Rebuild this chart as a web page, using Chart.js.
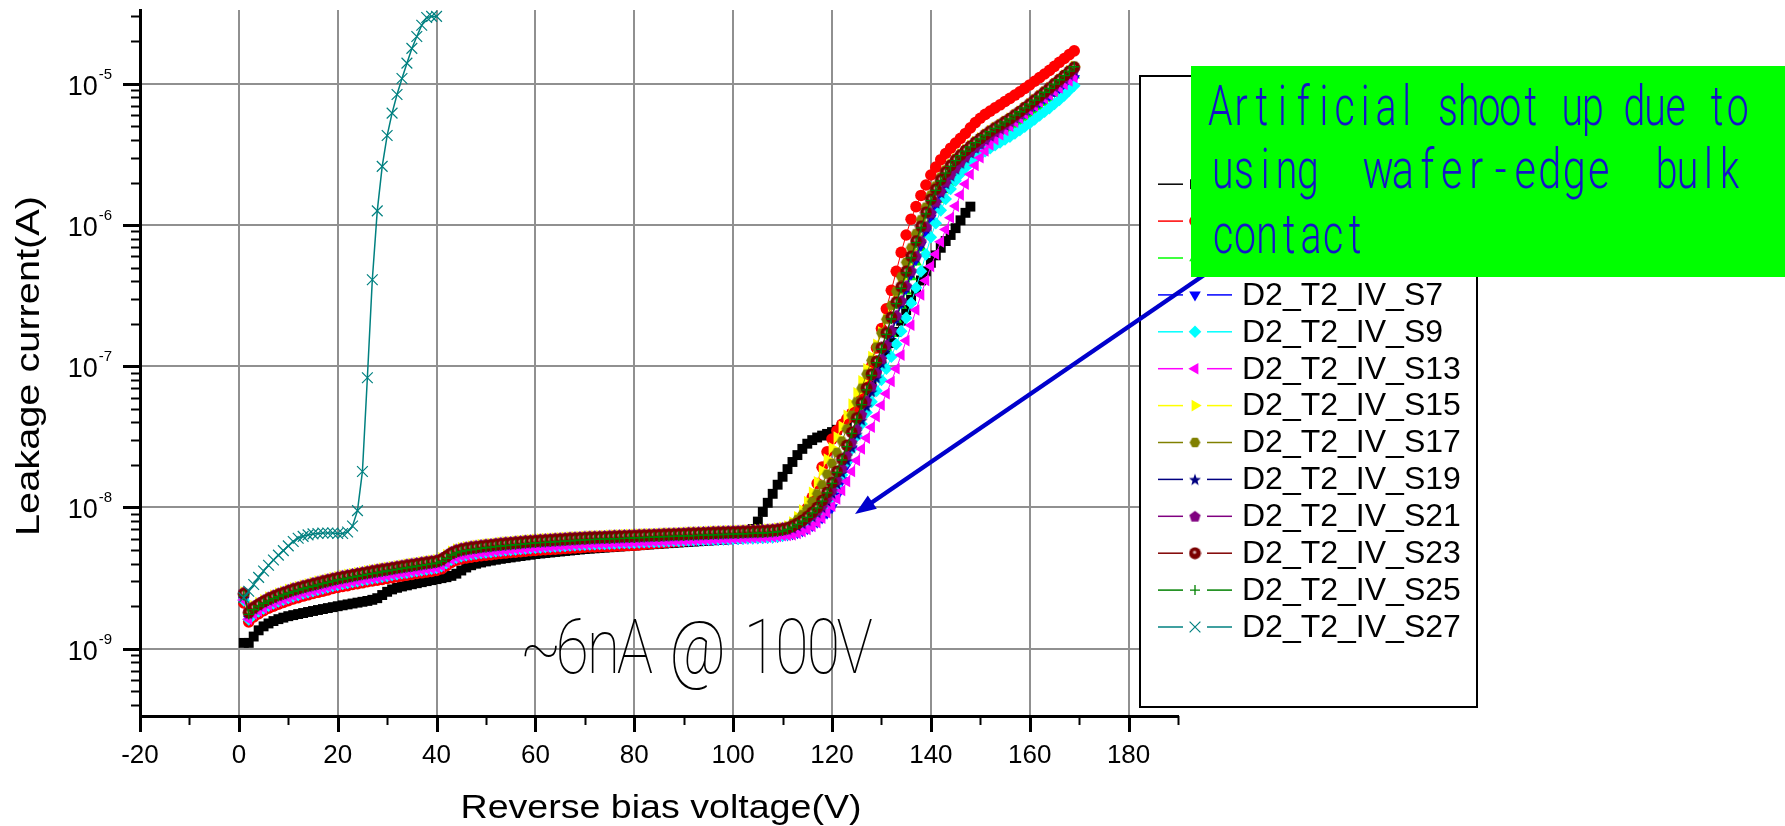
<!DOCTYPE html>
<html>
<head>
<meta charset="utf-8">
<title>Leakage current vs reverse bias</title>
<script src="https://cdn.jsdelivr.net/npm/chart.js@4.4.1/dist/chart.umd.min.js"></script>
<style>
html,body{margin:0;padding:0;background:#ffffff;overflow:hidden;}
canvas{display:block;}
</style>
</head>
<body>
<canvas id="chart" width="1785" height="826"></canvas>
<script>
// ---------------- DATA ----------------
const VOLTS = [1,2,3,4,5,6,7,8,9,10,11,12,13,14,15,16,17,18,19,20,21,22,23,24,25,26,27,28,29,30,31,32,33,34,35,36,37,38,39,40,41,42,43,44,45,46,47,48,49,50,51,52,53,54,55,56,57,58,59,60,61,62,63,64,65,66,67,68,69,70,71,72,73,74,75,76,77,78,79,80,81,82,83,84,85,86,87,88,89,90,91,92,93,94,95,96,97,98,99,100,101,102,103,104,105,106,107,108,109,110,111,112,113,114,115,116,117,118,119,120,121,122,123,124,125,126,127,128,129,130,131,132,133,134,135,136,137,138,139,140,141,142,143,144,145,146,147,148,149,150,151,152,153,154,155,156,157,158,159,160,161,162,163,164,165,166,167,168,169];

// leakage currents in nA, one value per volt
const S1_nA = [1.10,1.10,1.22,1.35,1.44,1.51,1.57,1.62,1.66,1.70,
1.73,1.76,1.79,1.82,1.85,1.88,1.91,1.94,1.97,2.00,
2.03,2.06,2.09,2.12,2.15,2.18,2.22,2.28,2.40,2.53,
2.63,2.70,2.76,2.81,2.86,2.91,2.96,3.01,3.06,3.11,
3.16,3.21,3.28,3.40,3.58,3.76,3.90,4.00,4.08,4.15,
4.21,4.27,4.33,4.38,4.43,4.48,4.53,4.58,4.63,4.68,
4.72,4.76,4.80,4.84,4.88,4.92,4.96,5.00,5.04,5.08,
5.11,5.14,5.17,5.20,5.23,5.26,5.29,5.32,5.35,5.38,
5.41,5.44,5.47,5.50,5.53,5.56,5.59,5.62,5.65,5.68,
5.71,5.74,5.77,5.80,5.83,5.86,5.89,5.92,5.95,5.98,
6.02,6.10,6.45,7.05,7.95,9.3,10.8,12.5,14.5,16.5,
18.7,21,23.5,26,28.3,30,31.3,32.3,33.2,34.2,
35.5,37.5,40,43.5,48,54,62,73,86,102,
122,146,175,210,250,295,345,405,470,540,
610,690,770,850,950,1080,1220,1350];

const S3_nA = [2.11,1.55,1.68,1.77,1.86,1.94,2.00,2.07,2.13,2.19,
2.25,2.30,2.36,2.41,2.46,2.51,2.56,2.61,2.67,2.72,
2.76,2.80,2.85,2.89,2.93,2.98,3.02,3.06,3.10,3.15,
3.19,3.23,3.28,3.32,3.36,3.41,3.45,3.49,3.53,3.58,
3.68,3.87,4.09,4.23,4.33,4.39,4.45,4.51,4.56,4.60,
4.64,4.69,4.73,4.76,4.80,4.83,4.87,4.90,4.94,4.97,
5.00,5.02,5.05,5.07,5.10,5.13,5.15,5.18,5.20,5.23,
5.25,5.26,5.28,5.30,5.31,5.33,5.35,5.37,5.38,5.40,
5.44,5.48,5.52,5.56,5.60,5.64,5.68,5.72,5.76,5.80,
5.84,5.88,5.92,5.96,6.00,6.04,6.08,6.12,6.16,6.20,
6.24,6.28,6.32,6.36,6.40,6.44,6.48,6.53,6.59,6.67,
6.80,7.15,7.70,8.60,9.90,11.8,14.8,19.3,24.8,30.5,
35.0,38.8,42.5,46.5,52,61,76,100,135,185,
255,345,470,640,850,1100,1350,1620,1920,2260,
2570,2900,3210,3500,3800,4110,4450,4870,5310,5700,
6070,6400,6750,7100,7500,7880,8320,8760,9280,9810,
10420,11050,11730,12440,13290,14200,15100,16100,17100];

const S5_nA = [2.28,1.67,1.81,1.92,2.01,2.09,2.17,2.24,2.31,2.37,
2.44,2.49,2.55,2.60,2.66,2.72,2.77,2.83,2.88,2.94,
2.99,3.03,3.08,3.12,3.17,3.22,3.26,3.31,3.36,3.40,
3.45,3.50,3.54,3.59,3.64,3.68,3.73,3.78,3.82,3.87,
3.98,4.19,4.42,4.58,4.68,4.75,4.82,4.87,4.93,4.98,
5.02,5.07,5.12,5.15,5.19,5.23,5.26,5.30,5.34,5.38,
5.40,5.43,5.46,5.49,5.51,5.54,5.57,5.60,5.63,5.65,
5.67,5.69,5.71,5.73,5.75,5.77,5.78,5.80,5.82,5.84,
5.86,5.88,5.90,5.91,5.93,5.95,5.97,5.99,6.01,6.03,
6.05,6.06,6.08,6.10,6.12,6.14,6.16,6.18,6.19,6.21,
6.23,6.25,6.27,6.29,6.31,6.32,6.35,6.39,6.44,6.53,
6.75,6.95,7.25,7.65,8.15,8.8,9.6,10.6,12.0,14.0,
16.5,20,24.5,30,37,46,57,70,87,108,
135,170,215,270,340,430,545,690,870,1080,
1290,1520,1770,2000,2230,2440,2650,2860,3070,3280,
3500,3730,3940,4160,4400,4640,4910,5220,5580,5930,
6380,6840,7350,7880,8510,9160,9880,10680,11500];

const S7_nA = [2.21,1.62,1.76,1.85,1.94,2.03,2.10,2.17,2.23,2.30,
2.36,2.41,2.47,2.52,2.57,2.63,2.68,2.74,2.79,2.84,
2.89,2.93,2.98,3.02,3.07,3.11,3.16,3.20,3.25,3.29,
3.34,3.38,3.43,3.47,3.52,3.56,3.61,3.65,3.70,3.74,
3.85,4.05,4.28,4.43,4.53,4.60,4.66,4.72,4.77,4.82,
4.86,4.91,4.95,4.99,5.02,5.06,5.09,5.13,5.17,5.20,
5.23,5.26,5.28,5.31,5.34,5.36,5.39,5.42,5.45,5.47,
5.49,5.51,5.53,5.54,5.56,5.58,5.60,5.62,5.63,5.65,
5.67,5.69,5.71,5.72,5.74,5.76,5.78,5.80,5.81,5.83,
5.85,5.87,5.89,5.90,5.92,5.94,5.96,5.98,5.99,6.01,
6.03,6.05,6.07,6.08,6.10,6.12,6.15,6.18,6.24,6.32,
6.4,6.5,6.65,6.85,7.1,7.45,7.9,8.45,9.15,10.0,
12,15.5,20,26,34,44,56,71,90,113,
140,175,220,280,355,450,570,720,900,1120,
1340,1600,1860,2140,2400,2650,2910,3150,3400,3650,
3910,4170,4430,4680,4960,5240,5550,5870,6230,6600,
7010,7440,7880,8320,8830,9300,9790,10340,10900];

const S9_nA = [2.20,1.61,1.75,1.84,1.93,2.02,2.09,2.16,2.22,2.29,
2.35,2.40,2.46,2.51,2.56,2.62,2.67,2.73,2.78,2.83,
2.88,2.92,2.97,3.01,3.06,3.10,3.15,3.19,3.24,3.28,
3.33,3.37,3.42,3.46,3.51,3.55,3.60,3.64,3.69,3.73,
3.84,4.04,4.27,4.42,4.52,4.59,4.65,4.71,4.76,4.81,
4.85,4.90,4.94,4.98,5.01,5.05,5.08,5.12,5.16,5.19,
5.22,5.25,5.27,5.30,5.33,5.35,5.38,5.41,5.44,5.46,
5.48,5.50,5.52,5.53,5.55,5.57,5.59,5.61,5.62,5.64,
5.66,5.68,5.70,5.71,5.73,5.75,5.77,5.79,5.80,5.82,
5.84,5.86,5.88,5.89,5.91,5.93,5.95,5.97,5.98,6.00,
6.02,6.04,6.06,6.07,6.09,6.11,6.14,6.17,6.23,6.31,
6.45,6.6,6.8,7.05,7.35,7.8,8.4,9.2,10.3,11.8,
14,17,21,26,32,39,47,56,67,80,
96,117,143,177,220,280,360,470,620,820,
1030,1270,1530,1800,2060,2310,2550,2760,2950,3140,
3330,3500,3670,3840,4030,4220,4450,4690,4970,5260,
5600,5960,6340,6730,7190,7670,8270,8970,9700];

const S13_nA = [2.21,1.62,1.76,1.85,1.94,2.03,2.10,2.17,2.23,2.30,
2.36,2.41,2.47,2.52,2.57,2.63,2.68,2.74,2.79,2.84,
2.89,2.93,2.98,3.02,3.07,3.11,3.16,3.20,3.25,3.29,
3.34,3.38,3.43,3.47,3.52,3.56,3.61,3.65,3.70,3.74,
3.85,4.05,4.28,4.43,4.53,4.60,4.66,4.72,4.77,4.82,
4.86,4.91,4.95,4.99,5.02,5.06,5.09,5.13,5.17,5.20,
5.23,5.26,5.28,5.31,5.34,5.36,5.39,5.42,5.45,5.47,
5.49,5.51,5.53,5.54,5.56,5.58,5.60,5.62,5.63,5.65,
5.67,5.69,5.71,5.72,5.74,5.76,5.78,5.80,5.81,5.83,
5.85,5.87,5.89,5.90,5.92,5.94,5.96,5.98,5.99,6.01,
6.03,6.05,6.07,6.08,6.10,6.12,6.15,6.18,6.24,6.32,
6.35,6.4,6.55,6.75,7.0,7.35,7.8,8.4,9.2,10.2,
11.5,13.2,15.3,18,21.5,26,31,37,44,53,
64,78,96,120,152,195,250,320,405,510,
621,760,930,1128,1362,1636,1949,2285,2639,2993,
3342,3686,4025,4360,4680,5000,5353,5711,6109,6516,
6971,7439,7875,8322,8827,9347,9880,10481,11100];

const S15_nA = [2.52,1.85,2.01,2.12,2.22,2.32,2.40,2.48,2.55,2.63,
2.70,2.76,2.82,2.88,2.95,3.01,3.07,3.13,3.19,3.25,
3.31,3.36,3.41,3.46,3.51,3.56,3.62,3.67,3.72,3.77,
3.82,3.87,3.92,3.98,4.03,4.08,4.13,4.18,4.23,4.28,
4.41,4.64,4.89,5.07,5.18,5.26,5.34,5.40,5.46,5.51,
5.56,5.61,5.67,5.71,5.75,5.79,5.83,5.87,5.91,5.95,
5.98,6.02,6.05,6.08,6.11,6.14,6.17,6.20,6.23,6.26,
6.28,6.30,6.32,6.34,6.37,6.39,6.41,6.43,6.45,6.47,
6.49,6.51,6.53,6.55,6.57,6.59,6.61,6.63,6.65,6.67,
6.70,6.72,6.74,6.76,6.78,6.80,6.82,6.84,6.86,6.88,
6.90,6.92,6.94,6.96,6.98,7.00,7.03,7.08,7.14,7.23,
7.4,7.9,8.6,9.6,11.0,12.8,15.2,18.3,22,26.5,
31.5,37.5,45,54,65,79,96,117,143,175,
215,265,330,415,525,660,830,1040,1290,1580,
1850,2140,2420,2690,2940,3180,3420,3650,3900,4140,
4400,4660,4910,5160,5440,5720,6050,6410,6810,7240,
7720,8240,8780,9360,10030,10760,11510,12390,13300];

const S17_nA = [2.45,1.80,1.95,2.06,2.16,2.25,2.33,2.41,2.48,2.55,
2.62,2.68,2.74,2.80,2.86,2.92,2.98,3.04,3.10,3.16,
3.21,3.26,3.31,3.36,3.41,3.46,3.51,3.56,3.61,3.66,
3.71,3.76,3.81,3.86,3.91,3.96,4.01,4.06,4.11,4.16,
4.28,4.50,4.75,4.92,5.03,5.11,5.18,5.24,5.30,5.35,
5.40,5.45,5.50,5.54,5.58,5.62,5.66,5.70,5.74,5.78,
5.81,5.84,5.87,5.90,5.93,5.96,5.99,6.02,6.05,6.08,
6.10,6.12,6.14,6.16,6.18,6.20,6.22,6.24,6.26,6.28,
6.30,6.32,6.34,6.36,6.38,6.40,6.42,6.44,6.46,6.48,
6.50,6.52,6.54,6.56,6.58,6.60,6.62,6.64,6.66,6.68,
6.70,6.72,6.74,6.76,6.78,6.80,6.83,6.87,6.93,7.02,
7.3,7.7,8.2,8.9,9.8,11.0,12.5,14.5,17.2,20.5,
24.5,29.5,36,45,56,70,88,110,137,172,
215,270,340,430,545,690,870,1090,1340,1630,
1890,2180,2450,2700,2950,3180,3410,3640,3880,4110,
4370,4630,4880,5130,5410,5690,6030,6380,6790,7210,
7700,8220,8760,9350,10020,10750,11500,12390,13310];

const S19_nA = [2.41,1.78,1.92,2.03,2.13,2.21,2.29,2.37,2.44,2.51,
2.58,2.64,2.70,2.76,2.81,2.87,2.93,2.99,3.05,3.11,
3.16,3.21,3.26,3.31,3.36,3.41,3.45,3.50,3.55,3.60,
3.65,3.70,3.75,3.80,3.85,3.90,3.95,4.00,4.05,4.10,
4.21,4.43,4.68,4.84,4.95,5.03,5.10,5.16,5.22,5.27,
5.32,5.37,5.42,5.46,5.50,5.54,5.58,5.62,5.66,5.70,
5.73,5.75,5.78,5.81,5.84,5.87,5.90,5.93,5.96,5.99,
6.01,6.03,6.05,6.07,6.09,6.11,6.13,6.15,6.17,6.19,
6.21,6.23,6.25,6.27,6.29,6.31,6.33,6.35,6.37,6.39,
6.41,6.42,6.44,6.46,6.48,6.50,6.52,6.54,6.56,6.58,
6.60,6.62,6.64,6.66,6.68,6.70,6.73,6.77,6.83,6.92,
7.0,7.15,7.4,7.7,8.1,8.6,9.2,10.0,11.1,12.6,
14.7,17.6,21.5,26.5,33,41.5,52,66,83,105,
133,170,218,280,360,460,590,750,950,1190,
1430,1690,1960,2230,2490,2740,2990,3240,3500,3760,
4030,4290,4560,4820,5110,5410,5750,6100,6490,6910,
7380,7870,8380,8920,9530,10170,10850,11620,12430];

const S21_nA = [2.52,1.85,2.01,2.12,2.22,2.32,2.40,2.48,2.55,2.63,
2.70,2.76,2.82,2.88,2.95,3.01,3.07,3.13,3.19,3.25,
3.31,3.36,3.41,3.46,3.51,3.56,3.62,3.67,3.72,3.77,
3.82,3.87,3.92,3.98,4.03,4.08,4.13,4.18,4.23,4.28,
4.41,4.64,4.89,5.07,5.18,5.26,5.34,5.40,5.46,5.51,
5.56,5.61,5.67,5.71,5.75,5.79,5.83,5.87,5.91,5.95,
5.98,6.02,6.05,6.08,6.11,6.14,6.17,6.20,6.23,6.26,
6.28,6.30,6.32,6.34,6.37,6.39,6.41,6.43,6.45,6.47,
6.49,6.51,6.53,6.55,6.57,6.59,6.61,6.63,6.65,6.67,
6.70,6.72,6.74,6.76,6.78,6.80,6.82,6.84,6.86,6.88,
6.90,6.92,6.94,6.96,6.98,7.00,7.03,7.08,7.14,7.23,
7.25,7.4,7.7,8.0,8.4,8.9,9.5,10.4,11.6,13.3,
15.7,19,23.5,29,36,45.5,57,72,90,113,
142,180,230,292,372,475,605,770,975,1220,
1460,1740,2020,2290,2550,2800,3060,3310,3570,3820,
4090,4360,4620,4890,5180,5480,5820,6170,6580,7000,
7480,7990,8520,9080,9720,10400,11120,11930,12800];

const S23_nA = [2.45,1.80,1.95,2.06,2.16,2.25,2.33,2.41,2.48,2.55,
2.62,2.68,2.74,2.80,2.86,2.92,2.98,3.04,3.10,3.16,
3.21,3.26,3.31,3.36,3.41,3.46,3.51,3.56,3.61,3.66,
3.71,3.76,3.81,3.86,3.91,3.96,4.01,4.06,4.11,4.16,
4.28,4.50,4.75,4.92,5.03,5.11,5.18,5.24,5.30,5.35,
5.40,5.45,5.50,5.54,5.58,5.62,5.66,5.70,5.74,5.78,
5.81,5.84,5.87,5.90,5.93,5.96,5.99,6.02,6.05,6.08,
6.10,6.12,6.14,6.16,6.18,6.20,6.22,6.24,6.26,6.28,
6.30,6.32,6.34,6.36,6.38,6.40,6.42,6.44,6.46,6.48,
6.50,6.52,6.54,6.56,6.58,6.60,6.62,6.64,6.66,6.68,
6.70,6.72,6.74,6.76,6.78,6.80,6.83,6.87,6.93,7.02,
7.15,7.38,7.70,8.10,8.60,9.25,10.0,11.2,12.8,15.0,
18,22,27.5,34,43,55,70,88,108,135,
172,222,285,365,470,600,770,980,1230,1520,
1795,2090,2370,2640,2890,3130,3380,3610,3860,4100,
4360,4620,4870,5120,5400,5680,6020,6370,6780,7200,
7690,8210,8750,9350,10010,10700,11450,12250,13100];

const S25_nA = [2.38,1.75,1.89,2.00,2.10,2.18,2.26,2.34,2.41,2.47,
2.54,2.60,2.66,2.72,2.77,2.83,2.89,2.95,3.01,3.07,
3.11,3.16,3.21,3.26,3.31,3.36,3.40,3.45,3.50,3.55,
3.60,3.65,3.70,3.74,3.79,3.84,3.89,3.94,3.99,4.04,
4.15,4.37,4.61,4.77,4.88,4.96,5.02,5.08,5.14,5.19,
5.24,5.29,5.34,5.37,5.41,5.45,5.49,5.53,5.57,5.61,
5.64,5.66,5.69,5.72,5.75,5.78,5.81,5.84,5.87,5.90,
5.92,5.94,5.96,5.98,5.99,6.01,6.03,6.05,6.07,6.09,
6.11,6.13,6.15,6.17,6.19,6.21,6.23,6.25,6.27,6.29,
6.31,6.32,6.34,6.36,6.38,6.40,6.42,6.44,6.46,6.48,
6.50,6.52,6.54,6.56,6.58,6.60,6.63,6.66,6.72,6.81,
7.0,7.25,7.6,8.0,8.5,9.15,9.95,11.1,12.7,14.8,
17.7,21.7,27,33.5,42,53.5,68,86,106,132,
168,216,278,356,458,585,750,955,1200,1490,
1760,2050,2330,2600,2860,3100,3340,3580,3830,4070,
4330,4580,4840,5090,5370,5650,5990,6340,6750,7170,
7660,8170,8710,9290,9960,10680,11430,12300,13200];

const S27_nA = [2.30,2.55,2.85,3.20,3.55,3.90,4.25,4.60,4.95,5.35,
5.75,6.05,6.25,6.40,6.50,6.55,6.60,6.60,6.60,6.55,
6.55,6.70,7.40,9.50,18,83,410,1260,2600,4300,
6200,8400,10900,14000,17800,21600,26000,29500,30000,30000];

const SERIES_NAMES = ['D2_T2_IV_S1','D2_T2_IV_S3','D2_T2_IV_S5','D2_T2_IV_S7','D2_T2_IV_S9','D2_T2_IV_S13','D2_T2_IV_S15','D2_T2_IV_S17','D2_T2_IV_S19','D2_T2_IV_S21','D2_T2_IV_S23','D2_T2_IV_S25','D2_T2_IV_S27'];
const SERIES_VALUES_nA = [S1_nA,S3_nA,S5_nA,S7_nA,S9_nA,S13_nA,S15_nA,S17_nA,S19_nA,S21_nA,S23_nA,S25_nA,S27_nA];

const X_TICK_LABELS = ['-20','0','20','40','60','80','100','120','140','160','180'];
const Y_TICK_EXPONENTS = [-9,-8,-7,-6,-5];
const X_TITLE = 'Reverse bias voltage(V)';
const Y_TITLE = 'Leakage current(A)';
const NOTE_TEXT = '~6nA @ 100V';
const BOX_LINE1 = 'Artificial shoot up due to';
const BOX_LINE2 = ['using','wafer-edge','bulk'];
const BOX_LINE3 = 'contact';

// ---------------- STYLE ----------------
const X_MIN = -20, X_MAX = 190;
const Y_MIN = 3.34e-10, Y_MAX = 3.33e-5;
const NA = 1e-9;

function makeCanvas(size, draw){
  const c = document.createElement('canvas');
  c.width = size; c.height = size;
  const g = c.getContext('2d');
  draw(g, size/2);
  return c;
}
function polyPath(g, cx, cy, n, r, startDeg){
  g.beginPath();
  for (let k=0;k<n;k++){
    const a = (startDeg + k*360/n) * Math.PI/180;
    g.lineTo(cx + r*Math.cos(a), cy + r*Math.sin(a));
  }
  g.closePath();
}
const HEXAGON = makeCanvas(13, (g,c)=>{ polyPath(g,c,c,6,5.4,0); g.fillStyle='#808000'; g.fill(); });
const PENTAGON = makeCanvas(13, (g,c)=>{ polyPath(g,c,c+0.5,5,5.9,-90); g.fillStyle='#800080'; g.fill(); });
const STAR = makeCanvas(14, (g,c)=>{
  g.beginPath();
  for (let k=0;k<10;k++){
    const r = (k%2===0)?6.3:2.6;
    const a = (-90 + k*36)*Math.PI/180;
    g.lineTo(c + r*Math.cos(a), c+0.6 + r*Math.sin(a));
  }
  g.closePath(); g.fillStyle='#000080'; g.fill();
});
const SPHERE = makeCanvas(13, (g,c)=>{
  g.beginPath(); g.arc(c,c,5.9,0,Math.PI*2); g.fillStyle='#7a0000'; g.fill();
  const gr = g.createRadialGradient(c-0.4,c-0.9,0,c-0.4,c-0.9,2.5);
  gr.addColorStop(0,'rgba(240,222,222,1)');
  gr.addColorStop(0.55,'rgba(205,155,155,0.8)');
  gr.addColorStop(1,'rgba(140,30,30,0)');
  g.fillStyle = gr; g.beginPath(); g.arc(c-0.4,c-0.9,2.5,0,Math.PI*2); g.fill();
});

const STYLES = [
  {color:'#000000', style:'rect', r:7.0},
  {color:'#ff0000', style:'circle', r:5.8},
  {color:'#00ff00', style:'triangle', r:6.7},
  {color:'#0000ff', style:'triangle', r:6.7, rot:180},
  {color:'#00ffff', style:'rectRot', r:6.3},
  {color:'#ff00ff', style:'triangle', r:6.7, rot:270},
  {color:'#ffff00', style:'triangle', r:6.7, rot:90},
  {color:'#808000', style:HEXAGON, r:5},
  {color:'#000080', style:STAR, r:5},
  {color:'#800080', style:PENTAGON, r:5},
  {color:'#800000', style:SPHERE, r:5},
  {color:'#008000', style:'cross', r:5.0, bw:1.3},
  {color:'#008080', style:'crossRot', r:7.6, bw:1.2, lw:1.5}
];

const datasets = SERIES_NAMES.map((name, i) => {
  const st = STYLES[i];
  return {
    label: name,
    data: SERIES_VALUES_nA[i].map((v, j) => ({x: VOLTS[j], y: v * NA})),
    borderColor: st.color,
    backgroundColor: st.color,
    borderWidth: st.lw || 1,
    pointStyle: st.style,
    pointRadius: st.r,
    pointRotation: st.rot || 0,
    pointBackgroundColor: st.color,
    pointBorderColor: st.color,
    pointBorderWidth: st.bw || 0,
    tension: 0,
    fill: false,
    order: SERIES_NAMES.length - i
  };
});

// ---------------- DECORATION ----------------
function drawSymbol(ctx, st, x, y){
  const s = st.style;
  if (typeof s !== 'string'){ ctx.drawImage(s, x - s.width/2, y - s.height/2); return; }
  ctx.save();
  ctx.translate(x, y);
  ctx.rotate((st.rot||0) * Math.PI/180);
  ctx.fillStyle = st.color; ctx.strokeStyle = st.color; ctx.lineWidth = st.bw || 1;
  const r = st.r;
  ctx.beginPath();
  if (s === 'rect'){ const h = r*Math.SQRT1_2; ctx.rect(-h,-h,2*h,2*h); ctx.fill(); }
  else if (s === 'circle'){ ctx.arc(0,0,r,0,Math.PI*2); ctx.fill(); }
  else if (s === 'triangle'){ for (let k=0;k<3;k++){ const a=k*2*Math.PI/3; ctx.lineTo(Math.sin(a)*r, -Math.cos(a)*r);} ctx.closePath(); ctx.fill(); }
  else if (s === 'rectRot'){ ctx.moveTo(0,-r); ctx.lineTo(r,0); ctx.lineTo(0,r); ctx.lineTo(-r,0); ctx.closePath(); ctx.fill(); }
  else if (s === 'cross'){ ctx.moveTo(-r,0); ctx.lineTo(r,0); ctx.moveTo(0,-r); ctx.lineTo(0,r); ctx.stroke(); }
  else if (s === 'crossRot'){ const d=r*Math.SQRT1_2; ctx.moveTo(-d,-d); ctx.lineTo(d,d); ctx.moveTo(-d,d); ctx.lineTo(d,-d); ctx.stroke(); }
  ctx.restore();
}

// monospaced placement of glyphs, each squeezed horizontally by sx
function drawMono(ctx, text, font, color, left, baseline, cell, sx){
  ctx.save();
  ctx.font = font; ctx.fillStyle = color;
  ctx.textAlign = 'center'; ctx.textBaseline = 'alphabetic';
  for (let i = 0; i < text.length; i++){
    const ch = text[i];
    if (ch === ' ') continue;
    ctx.save();
    ctx.translate(left + (i + 0.5) * cell, baseline);
    ctx.scale(sx, 1);
    ctx.fillText(ch, 0, 0);
    ctx.restore();
  }
  ctx.restore();
}

// text stretched horizontally to a given advance width, centred on cx
function drawStretched(ctx, text, font, cx, baseline, width){
  ctx.save();
  ctx.font = font; ctx.textAlign = 'center'; ctx.textBaseline = 'alphabetic';
  const w = ctx.measureText(text).width;
  ctx.translate(cx, baseline);
  ctx.scale(width / w, 1);
  ctx.fillText(text, 0, 0);
  ctx.restore();
}

function seg(ctx, x1, y1, x2, y2, w){
  ctx.lineWidth = w; ctx.beginPath(); ctx.moveTo(x1,y1); ctx.lineTo(x2,y2); ctx.stroke();
}

const ARIAL = '"Liberation Sans", Arial, Helvetica, sans-serif';
const THIN = 'Roboto, Lato, "DejaVu Sans", sans-serif';

const decoration = {
  id: 'decoration',
  afterDraw(chart){
    const ctx = chart.ctx, xs = chart.scales.x, ys = chart.scales.y, ca = chart.chartArea;
    ctx.save();
    ctx.strokeStyle = '#000'; ctx.fillStyle = '#000'; ctx.lineCap = 'butt';

    // y ticks (major + log minor)
    for (let e = -10; e <= -5; e++){
      for (let k = 1; k <= 9; k++){
        const v = k * Math.pow(10, e);
        if (v < Y_MIN || v > Y_MAX) continue;
        const y = Math.round(ys.getPixelForValue(v)) + 0.5;
        if (k === 1) seg(ctx, ca.left - 17, y, ca.left, y, 3);
        else seg(ctx, ca.left - 9, y, ca.left, y, 2);
      }
    }
    // x ticks
    for (let v = X_MIN; v <= X_MAX; v += 10){
      const x = Math.round(xs.getPixelForValue(v)) + 0.5;
      if ((v / 10) % 2 === 0) seg(ctx, x, ca.bottom, x, ca.bottom + 16, 3);
      else seg(ctx, x, ca.bottom, x, ca.bottom + 9, 2);
    }

    // x tick labels
    ctx.font = '26px ' + ARIAL; ctx.textAlign = 'center'; ctx.textBaseline = 'alphabetic';
    X_TICK_LABELS.forEach(t => {
      const x = xs.getPixelForValue(Number(t));
      ctx.fillText(t, x, ca.bottom + 47);
    });
    // y tick labels 10^n
    Y_TICK_EXPONENTS.forEach(e => {
      const y = ys.getPixelForValue(Math.pow(10, e));
      ctx.textAlign = 'right';
      ctx.font = '15px ' + ARIAL;
      const sup = String(e);
      ctx.fillText(sup, 112, y - 5);
      const sw = ctx.measureText(sup).width;
      ctx.font = '27px ' + ARIAL;
      ctx.fillText('10', 112 - sw - 1, y + 11);
    });

    // axis titles (slightly expanded lettering)
    ctx.fillStyle = '#000';
    drawStretched(ctx, X_TITLE, '34px ' + ARIAL, 661, 818, 401);
    ctx.save();
    ctx.translate(39, 366);
    ctx.rotate(-Math.PI/2);
    drawStretched(ctx, Y_TITLE, '34px ' + ARIAL, 0, 0, 340);
    ctx.restore();

    // note
    drawMono(ctx, NOTE_TEXT, '100 76px ' + THIN, '#000', 525, 673, 31.4, 0.8);

    // legend
    const L = {x0:1140, y0:76, x1:1477, y1:707, row0:184.2, dy:36.9};
    ctx.fillStyle = '#fff'; ctx.fillRect(L.x0, L.y0, L.x1-L.x0, L.y1-L.y0);
    ctx.strokeStyle = '#000'; ctx.lineWidth = 2;
    ctx.strokeRect(L.x0, L.y0, L.x1-L.x0, L.y1-L.y0);
    SERIES_NAMES.forEach((name, i) => {
      const y = L.row0 + i * L.dy;
      const st = STYLES[i];
      ctx.strokeStyle = st.color;
      seg(ctx, 1158, y, 1183, y, 1.5);
      seg(ctx, 1207, y, 1232, y, 1.5);
      drawSymbol(ctx, st, 1195, y);
      ctx.fillStyle = '#000';
      ctx.font = '32px ' + ARIAL; ctx.textAlign = 'left'; ctx.textBaseline = 'middle';
      ctx.fillText(name, 1242, y + 1);
    });
    ctx.textBaseline = 'alphabetic';

    // arrow
    const ax0 = 1207, ay0 = 273, ax1 = 855, ay1 = 514;
    const ang = Math.atan2(ay1 - ay0, ax1 - ax0);
    const hl = 21, hw = 8;
    ctx.strokeStyle = '#0000cc'; ctx.fillStyle = '#0000cc';
    seg(ctx, ax0, ay0, ax1 - Math.cos(ang)*hl*0.8, ay1 - Math.sin(ang)*hl*0.8, 4.5);
    ctx.beginPath();
    ctx.moveTo(ax1, ay1);
    ctx.lineTo(ax1 - Math.cos(ang)*hl + Math.sin(ang)*hw, ay1 - Math.sin(ang)*hl - Math.cos(ang)*hw);
    ctx.lineTo(ax1 - Math.cos(ang)*hl - Math.sin(ang)*hw, ay1 - Math.sin(ang)*hl + Math.cos(ang)*hw);
    ctx.closePath(); ctx.fill();

    // green comment box
    ctx.fillStyle = '#00ff00';
    ctx.fillRect(1191, 66, 1785 - 1191, 211);
    const blue = '#1414c8';
    const bf = '300 56px ' + THIN;
    drawMono(ctx, BOX_LINE1, bf, blue, 1210, 125, 20.7, 0.7);
    drawMono(ctx, BOX_LINE2[0], bf, blue, 1212, 188, 21.3, 0.7);
    drawMono(ctx, BOX_LINE2[1], bf, blue, 1366, 188, 24.5, 0.74);
    drawMono(ctx, BOX_LINE2[2], bf, blue, 1656, 188, 21, 0.7);
    drawMono(ctx, BOX_LINE3, bf, blue, 1212, 253, 22, 0.7);

    ctx.restore();
  }
};

new Chart(document.getElementById('chart').getContext('2d'), {
  type: 'line',
  data: { datasets },
  options: {
    responsive: false,
    animation: false,
    devicePixelRatio: 1,
    events: [],
    layout: { autoPadding: false, padding: { top: 10, right: 607, bottom: 0, left: 0 } },
    plugins: { legend: { display: false }, tooltip: { enabled: false }, title: { display: false } },
    scales: {
      x: {
        type: 'linear', position: 'bottom', min: X_MIN, max: X_MAX,
        afterBuildTicks: s => { s.ticks = X_TICK_LABELS.map(t => ({ value: Number(t) })).filter(t => t.value > X_MIN); },
        afterFit: s => { s.height = 110; },
        ticks: { display: false },
        grid: { color: '#909090', lineWidth: 2, drawTicks: false },
        border: { display: true, color: '#000', width: 3 }
      },
      y: {
        type: 'logarithmic', position: 'left', min: Y_MIN, max: Y_MAX,
        afterBuildTicks: s => { s.ticks = Y_TICK_EXPONENTS.map(e => ({ value: Math.pow(10, e) })); },
        afterFit: s => { s.width = 140; },
        ticks: { display: false },
        grid: { color: '#909090', lineWidth: 2, drawTicks: false },
        border: { display: true, color: '#000', width: 3 }
      }
    }
  },
  plugins: [decoration]
});
</script>
</body>
</html>
